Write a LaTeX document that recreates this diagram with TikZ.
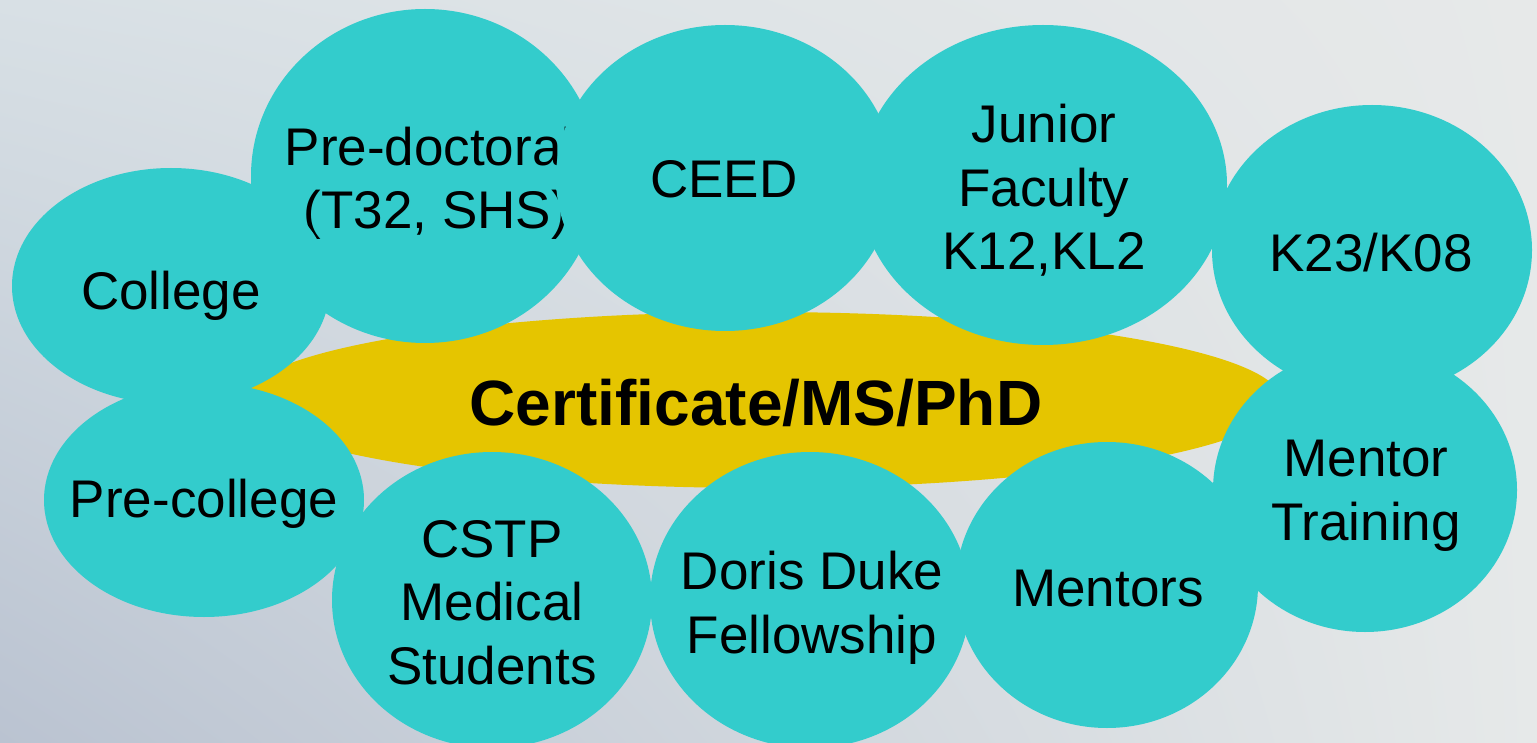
\documentclass[tikz,border=0pt]{standalone}
\usepackage{fontspec}
\setmainfont{Liberation Sans}
\usetikzlibrary{shapes.geometric,shadings}
\definecolor{bubbleteal}{RGB}{51,204,204}
\definecolor{coreyellow}{RGB}{229,197,0}
\definecolor{bgUL}{RGB}{216,224,229}
\definecolor{bgUR}{RGB}{231,233,233}
\definecolor{bgLL}{RGB}{186,195,209}
\definecolor{bgLR}{RGB}{230,233,233}
\tikzset{
  bubble/.style={shape=ellipse, fill=bubbleteal, draw=none, inner sep=0pt},
  corebubble/.style={shape=ellipse, fill=coreyellow, draw=none, inner sep=0pt},
  bubbletext/.style={anchor=base, align=center, inner sep=0pt, text=black,
    font=\fontsize{26.5pt}{31.75pt}\selectfont},
  coretext/.style={anchor=base, inner sep=0pt, text=black,
    font=\fontsize{32pt}{38pt}\selectfont\bfseries}
}
\begin{document}
\begin{tikzpicture}[x=0.5pt,y=-0.5pt]
\useasboundingbox (0,0) rectangle (1537,743);
\shade[upper left=bgUL, upper right=bgUR, lower left=bgLL, lower right=bgLR] (0,0) rectangle (1537,743);
% core
\node[corebubble, minimum width=519pt, minimum height=88pt] (core) at (762,400) {};
\node[coretext] (coret) at (756,425) {Certificate/MS/PhD};
% bubbles
\node[bubble, minimum width=174pt, minimum height=167pt] (predoc) at (425,176) {};
\node[bubbletext] (predoct) at (429,229) {Pre-doctoral\\\hspace*{0.278em}(T32, SHS)};
\node[bubble, minimum width=159pt, minimum height=118pt] (college) at (171,286) {};
\node[bubbletext] (colleget) at (171,310) {College};
\node[bubble, minimum width=160pt, minimum height=117pt] (precollege) at (204,500) {};
\node[bubbletext] (precolleget) at (204,517) {Pre-college};
\node[bubble, minimum width=169pt, minimum height=153pt] (ceed) at (725,178) {};
\node[bubbletext] (ceedt) at (724,198) {CEED};
\node[bubble, minimum width=184pt, minimum height=160pt] (junior) at (1043,185) {};
\node[bubbletext] (juniort) at (1044,270) {Junior\\Faculty\\K12,KL2};
\node[bubble, minimum width=160pt, minimum height=145pt] (kawards) at (1372,250) {};
\node[bubbletext] (kawardst) at (1371,272) {K23/K08};
\node[bubble, minimum width=152pt, minimum height=142pt] (mentortr) at (1365,490) {};
\node[bubbletext] (mentortrt) at (1366,540) {Mentor\\Training};
\node[bubble, minimum width=151pt, minimum height=143pt] (mentors) at (1107,585) {};
\node[bubbletext] (mentorst) at (1108,606) {Mentors};
\node[bubble, minimum width=160pt, minimum height=148pt] (doris) at (810,600) {};
\node[bubbletext] (dorist) at (812,653) {Doris Duke\\Fellowship};
\node[bubble, minimum width=160pt, minimum height=148pt] (cstp) at (492,600) {};
\node[bubbletext] (cstpt) at (492,684) {CSTP\\Medical\\Students};
\end{tikzpicture}
\end{document}
